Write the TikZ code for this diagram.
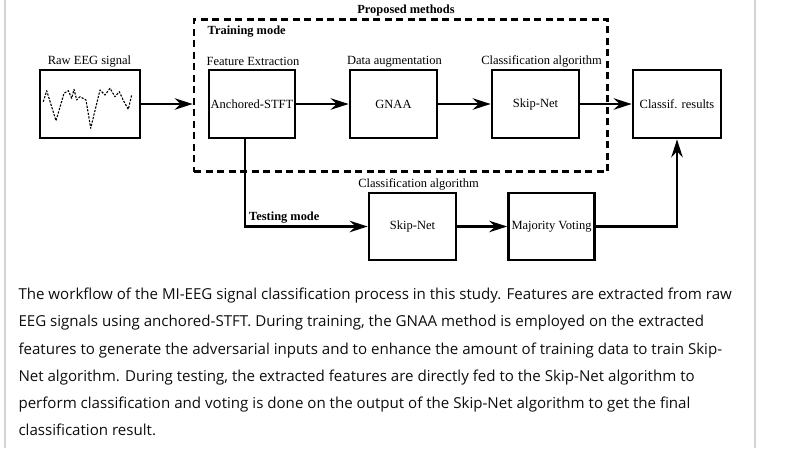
\documentclass[tikz,border=0pt]{standalone}
\usepackage{fontspec}
\setmainfont{Liberation Serif}
\newfontfamily\capfont{Open Sans}
\usetikzlibrary{arrows.meta}
\newlength\capw
\begin{document}
\settowidth{\capw}{\capfont\fontsize{10pt}{12pt}\selectfont The workflow of the MI-EEG signal classification process in this study. Features are extracted from raw}%
\pgfmathsetmacro\capsz{10*713.4/\capw}%
\begin{tikzpicture}[x=1pt,y=-1pt,
  diag/.style={font=\fontsize{12.5}{14}\selectfont},
  box/.style={draw, line width=2.7pt, inner sep=0pt, diag},
  lbl/.style={inner sep=0pt, diag},
  blbl/.style={inner sep=0pt, font=\fontsize{12.4}{14}\selectfont\bfseries},
  arr/.style={line width=2.3pt, -{Stealth[length=18pt,width=11.5pt,inset=6pt]}},
  frame/.style={draw=black, line width=2.8pt, dash pattern=on 7pt off 4.5pt},
  side/.style={draw=black!17, line width=2pt},
  capline/.style={anchor=base west, inner sep=0pt, text=black!95, font=\capfont\fontsize{\capsz pt}{14pt}\selectfont}
]
\useasboundingbox (0,0) rectangle (790,448);
\draw[side] (5,0) -- (5,448);
\draw[side] (755,0) -- (755,448);

% dashed frame of the proposed methods
\node[frame, minimum width=413.7pt, minimum height=152.2pt, inner sep=0pt] (prop) at (400.85,95.6) {};
\node[blbl] (propt) at (406,10.5) {Proposed methods};
\node[blbl, anchor=west] (train) at (207.5,32) {Training mode};

% boxes
\node[box, minimum width=100pt, minimum height=68pt] (raw) at (90,104) {};
\node[box, minimum width=86pt, minimum height=68pt] (anch) at (252,104) {Anchored-STFT};
\node[box, minimum width=87pt, minimum height=68pt] (gnaa) at (393.5,104) {GNAA};
\node[box, minimum width=87pt, minimum height=68pt] (skipa) at (535.5,104) {Skip-Net};
\node[box, minimum width=88pt, minimum height=68pt] (res) at (677,104) {Classif. results};
\node[box, minimum width=87pt, minimum height=67pt] (skipb) at (412.5,226.5) {Skip-Net};
\node[box, minimum width=86pt, minimum height=67pt] (maj) at (551.5,226.5) {Majority Voting};

% labels above the boxes
\node[lbl] (lraw) at (89.5,61.5) {Raw EEG signal};
\node[lbl] (lanch) at (253,61.5) {Feature Extraction};
\node[lbl] (lgnaa) at (394.5,61.5) {Data augmentation};
\node[lbl] (lskipa) at (541.5,61.5) {Classification algorithm};
\node[lbl] (lskipb) at (418.5,184.5) {Classification algorithm};
\node[blbl, anchor=west] (test) at (249,218) {Testing mode};

% raw EEG waveform
\draw[line width=1.1pt, dash pattern=on 2.2pt off 1.4pt, line join=round]
  (43.3,101.7) -- (46.7,90.7) -- (56,120.7) -- (64,93.3) -- (68.3,90.7) -- (71.7,98.3)
  -- (74,89.3) -- (76.7,100) -- (80,96.7) -- (86,100) -- (90.7,128.3) -- (100,90)
  -- (105,95) -- (110,88.3) -- (115,96.7) -- (119.3,91.7) -- (124,101.7)
  -- (128.3,109.3) -- (131.7,95);

% connectors
\coordinate (tst) at (245,226.5);
\draw[arr] (raw.east) -- (raw.east -| prop.west);
\draw[arr] (anch.east) -- (gnaa.west);
\draw[arr] (gnaa.east) -- (skipa.west);
\draw[arr] (skipa.east) -- (res.west);
\draw[arr] (anch.south -| tst) -- (tst) -- (skipb.west);
\draw[arr] (skipb.east) -- (maj.west);
\draw[arr] (maj.east) -| (res.south);

% caption
\node[capline] (c1) at (18.3,299) {The workflow of the MI-EEG signal classification process in this study. Features are extracted from raw};
\node[capline] (c2) at (18.3,326.5) {EEG signals using anchored-STFT. During training, the GNAA method is employed on the extracted};
\node[capline] (c3) at (18.3,354) {features to generate the adversarial inputs and to enhance the amount of training data to train Skip-};
\node[capline] (c4) at (18.3,381) {Net algorithm. During testing, the extracted features are directly fed to the Skip-Net algorithm to};
\node[capline] (c5) at (18.3,408) {perform classification and voting is done on the output of the Skip-Net algorithm to get the final};
\node[capline] (c6) at (18.3,435) {classification result.};
\end{tikzpicture}
\end{document}
